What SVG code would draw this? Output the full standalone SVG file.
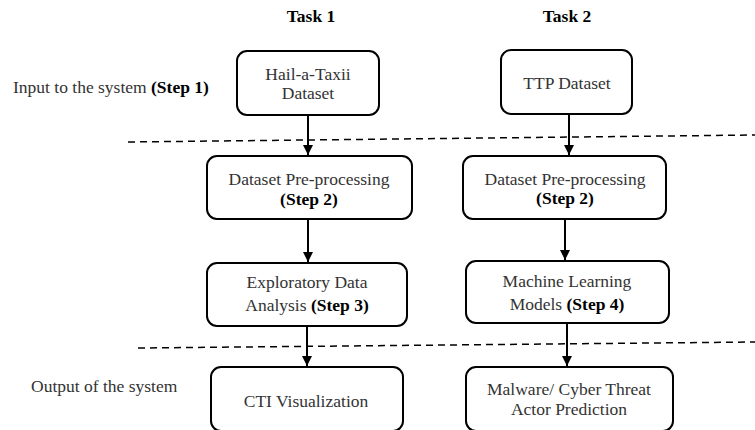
<svg xmlns="http://www.w3.org/2000/svg" width="755" height="430" viewBox="0 0 755 430" font-family="'Liberation Serif', 'DejaVu Serif', serif">
<style>
text{font-family:'Liberation Serif','DejaVu Serif',serif;font-size:17.5px;fill:#333}
.b{font-weight:bold;fill:#000}
.c{text-anchor:middle}
.box{fill:#fff;stroke:#000;stroke-width:2}
.dash{stroke:#000;stroke-width:1.5;stroke-dasharray:7,5;fill:none}
.con{stroke:#000;stroke-width:2;fill:none}
</style>
<defs>
<marker id="ah" markerWidth="10" markerHeight="10" viewBox="0 0 10 10" refX="10" refY="5" orient="auto" markerUnits="userSpaceOnUse">
<path d="M0,0 L10,5 L0,10 z" fill="#000"/>
</marker>
</defs>
<text class="b c" x="311" y="22" font-size="17">Task 1</text>
<text class="b c" x="567" y="22" font-size="17">Task 2</text>
<text x="13" y="93">Input to the system <tspan class="b">(Step 1)</tspan></text>
<text x="31" y="392">Output of the system</text>
<g id="dividers">
<path class="dash" d="M128,142 L755,135"/>
<path class="dash" d="M138,348 L755,342"/>
</g>
<g id="connectors">
<path class="con" d="M308,115 V155" marker-end="url(#ah)"/>
<path class="con" d="M569,114 V155" marker-end="url(#ah)"/>
<path class="con" d="M308,219 V262" marker-end="url(#ah)"/>
<path class="con" d="M565,219 V260" marker-end="url(#ah)"/>
<path class="con" d="M307,326 V366" marker-end="url(#ah)"/>
<path class="con" d="M567,323 V366" marker-end="url(#ah)"/>
</g>
<g id="hail">
<rect class="box" x="237" y="51" width="142" height="64" rx="10"/>
<text class="c" x="308" y="80">Hail-a-Taxii</text>
<text class="c" x="308" y="99">Dataset</text>
</g>
<g id="ttp">
<rect class="box" x="501" y="50" width="131" height="64" rx="10"/>
<text class="c" x="567" y="89">TTP Dataset</text>
</g>
<g id="prep1">
<rect class="box" x="207" y="156" width="205" height="63" rx="10"/>
<text class="c" x="309" y="185">Dataset Pre-processing</text>
<text class="c b" x="309" y="205">(Step 2)</text>
</g>
<g id="prep2">
<rect class="box" x="463" y="156" width="203" height="63" rx="10"/>
<text class="c" x="565" y="185">Dataset Pre-processing</text>
<text class="c b" x="565" y="204">(Step 2)</text>
</g>
<g id="eda">
<rect class="box" x="207" y="263" width="200" height="63" rx="10"/>
<text class="c" x="307" y="288">Exploratory Data</text>
<text class="c" x="307" y="311">Analysis <tspan class="b">(Step 3)</tspan></text>
</g>
<g id="ml">
<rect class="box" x="466" y="261" width="203" height="62" rx="10"/>
<text class="c" x="567" y="287">Machine Learning</text>
<text class="c" x="567" y="310">Models <tspan class="b">(Step 4)</tspan></text>
</g>
<g id="cti">
<rect class="box" x="211" y="367" width="192" height="64" rx="10"/>
<text class="c" x="306" y="407">CTI Visualization</text>
</g>
<g id="malware">
<rect class="box" x="466" y="367" width="207" height="64" rx="10"/>
<text class="c" x="569" y="395">Malware/ Cyber Threat</text>
<text class="c" x="569" y="415">Actor Prediction</text>
</g>
</svg>
